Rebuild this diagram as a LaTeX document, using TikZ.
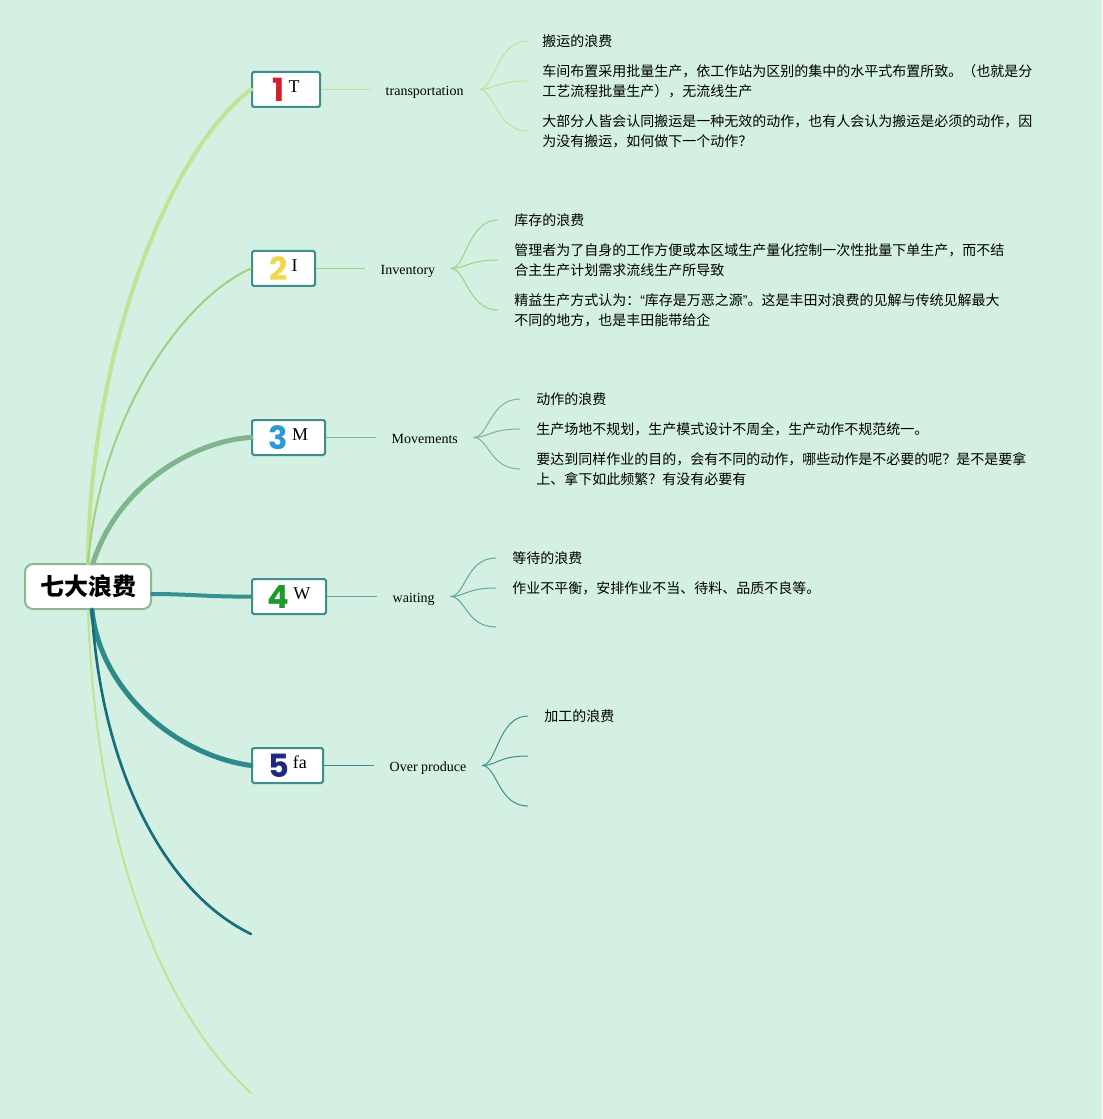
\documentclass[tikz,border=0pt]{standalone}
\usepackage{fontspec}
\setmainfont{Liberation Serif}
\newfontfamily\cjk{Noto Sans CJK SC}
\newfontfamily\numfont{Poppins}
\newfontfamily\qfont{Liberation Sans}
\usepackage{tikz}
\usetikzlibrary{positioning,calc}
\definecolor{bgc}{HTML}{D3F0E2}
\definecolor{rootc}{HTML}{8CB894}
\definecolor{boxc}{HTML}{3E8E8E}
\definecolor{lgc}{HTML}{C2E396}
\definecolor{igc}{HTML}{A3CF84}
\definecolor{mgc}{HTML}{7FB48C}
\definecolor{wgc}{HTML}{3A9090}
\definecolor{ogc}{HTML}{2E8A8A}
\definecolor{dtc}{HTML}{156E7E}
\definecolor{onec}{HTML}{D81E2C}
\definecolor{twoc}{HTML}{F2D64B}
\definecolor{threec}{HTML}{2A9BD8}
\definecolor{fourc}{HTML}{1E9A2A}
\definecolor{fivec}{HTML}{1E2A80}
\tikzset{
  root/.style={draw=rootc,line width=1.5pt,fill=white,rounded corners=6pt,minimum width=94.5pt,minimum height=33.75pt,inner sep=0pt,font=\cjk\bfseries\fontsize{18}{20}\selectfont},
  wbox/.style={draw=boxc,line width=1.5pt,fill=white,rounded corners=1.2pt,anchor=west,minimum height=26.25pt,inner sep=0pt,font=\fontsize{13.5}{14}\selectfont},
  lab/.style={inner xsep=11.6pt,inner ysep=0pt,text height=11.8pt,text depth=2.3pt,font=\fontsize{10.5}{12}\selectfont},
  leaf/.style={anchor=west,inner sep=0pt,align=left,font=\cjk\fontsize{10.5}{15}\selectfont},
  trunk/.style={line cap=round},
  twig/.style={line width=0.75pt},
  stem/.style={line width=1pt},
}
\newcommand{\wbox}[6][]{\node[wbox,#1] (#2) at (#3) {\textcolor{#4}{\numfont\bfseries\fontsize{24}{24}\selectfont #5}\hspace{3pt}\raisebox{6.75pt}{#6}};}
\newcommand{\qopen}{{\qfont “}}
\newcommand{\qclose}{{\qfont ”}}

\begin{document}
\begin{tikzpicture}[x=0.75pt,y=-0.75pt]
  \fill[bgc] (0,0) rectangle (1102,1119);
  \useasboundingbox (0,0) rectangle (1102,1119);
  % centre and the five boxes
  \node[root] (root) at (88,586.5) {七大浪费};
  \wbox[minimum width=51pt]{b1}{251,89.5}{onec}{1}{T}
  \wbox[minimum width=47.25pt]{b2}{251,268.5}{twoc}{2}{I}
  \wbox[minimum width=54.75pt]{b3}{251,437.5}{threec}{3}{M}
  \wbox[minimum width=55.5pt]{b4}{251,596.5}{fourc}{4}{W}
  \wbox[minimum width=53.25pt]{b5}{251,765.5}{fivec}{5}{fa}
  \node[lab,right=36.75pt of b1] (labT) {transportation};
  \node[lab,right=36.75pt of b2] (labI) {Inventory};
  \node[lab,right=37.5pt of b3] (labM) {Movements};
  \node[lab,right=37.5pt of b4] (labW) {waiting};
  \node[lab,right=37.5pt of b5] (labO) {Over produce};
  % main branches
  \coordinate (e6) at (251,934);
  \coordinate (e7) at (251,1093);
  \draw[trunk,draw=lgc,line width=1.5pt] (root.south) .. controls (95,820) and (150,1000) .. (e7);
  \draw[trunk,draw=lgc,line width=3pt] (root.north) .. controls (90,350) and (170,150) .. (b1.west);
  \draw[trunk,draw=igc,line width=1.5pt] (root.north) .. controls (100,420) and (180,300) .. (b2.west);
  \draw[trunk,draw=mgc,line width=3.75pt] ($(root.north)+(5,0)$) .. controls (120,480) and (200,440) .. (b3.west);
  \draw[trunk,draw=wgc,line width=3pt] ($(root.east)+(0,7.5)$) .. controls (190,594) and (210,597) .. (b4.west);
  \draw[trunk,draw=ogc,line width=3.75pt] ($(root.south)+(4,0)$) .. controls (100,690) and (175,755) .. (b5.west);
  \draw[trunk,draw=dtc,line width=2pt] ($(root.south)+(4,0)$) .. controls (100,760) and (160,890) .. (e6);
  % box to label
  \draw[stem,draw=lgc] (b1.east) -- (labT.west);
  \draw[stem,draw=igc] (b2.east) -- (labI.west);
  \draw[stem,draw=mgc] (b3.east) -- (labM.west);
  \draw[stem,draw=wgc!80] (b4.east) -- (labW.west);
  \draw[stem,draw=wgc] (b5.east) -- (labO.west);
  % fan ends
  \coordinate (t1) at (527,41);  \coordinate (t2) at (527,81);  \coordinate (t3) at (527,131);
  \coordinate (i1) at (498,220); \coordinate (i2) at (498,260); \coordinate (i3) at (498,310);
  \coordinate (m1) at (520,399); \coordinate (m2) at (520,429); \coordinate (m3) at (520,469);
  \coordinate (w1) at (496,558); \coordinate (w2) at (496,588); \coordinate (w3) at (496,627);
  \coordinate (o1) at (528,716); \coordinate (o2) at (528,756); \coordinate (o3) at (528,806);
  \foreach \e in {t1,t2,t3} \draw[twig,draw=lgc] (labT.east) .. controls +(15,0) and +(-30,0) .. (\e);
  \foreach \e in {i1,i2,i3} \draw[twig,draw=igc] (labI.east) .. controls +(15,0) and +(-30,0) .. (\e);
  \foreach \e in {m1,m2,m3} \draw[twig,draw=mgc] (labM.east) .. controls +(15,0) and +(-30,0) .. (\e);
  \foreach \e in {w1,w2,w3} \draw[twig,draw=wgc!80] (labW.east) .. controls +(15,0) and +(-30,0) .. (\e);
  \foreach \e in {o1,o2,o3} \draw[twig,draw=wgc] (labO.east) .. controls +(15,0) and +(-30,0) .. (\e);
  % leaf texts
  \node[leaf,right=11.25pt of t1] (tx1) {搬运的浪费};
  \node[leaf,right=11.25pt of t2] (tx2) {车间布置采用批量生产，依工作站为区别的集中的水平式布置所致。（也就是分\\工艺流程批量生产），无流线生产};
  \node[leaf,right=11.25pt of t3] (tx3) {大部分人皆会认同搬运是一种无效的动作，也有人会认为搬运是必须的动作，因\\为没有搬运，如何做下一个动作？};
  \node[leaf,right=12pt of i1] (ix1) {库存的浪费};
  \node[leaf,right=12pt of i2] (ix2) {管理者为了自身的工作方便或本区域生产量化控制一次性批量下单生产，而不结\\合主生产计划需求流线生产所导致};
  \node[leaf,right=12pt of i3] (ix3) {精益生产方式认为：\qopen 库存是万恶之源\qclose 。这是丰田对浪费的见解与传统见解最大\\不同的地方，也是丰田能带给企};
  \node[leaf,right=12pt of m1] (mx1) {动作的浪费};
  \node[leaf,right=12pt of m2] (mx2) {生产场地不规划，生产模式设计不周全，生产动作不规范统一。};
  \node[leaf,right=12pt of m3] (mx3) {要达到同样作业的目的，会有不同的动作，哪些动作是不必要的呢？是不是要拿\\上、拿下如此频繁？有没有必要有};
  \node[leaf,right=12pt of w1] (wx1) {等待的浪费};
  \node[leaf,right=12pt of w2] (wx2) {作业不平衡，安排作业不当、待料、品质不良等。};
  \node[leaf,right=12pt of o1] (ox1) {加工的浪费};
\end{tikzpicture}
\end{document}
